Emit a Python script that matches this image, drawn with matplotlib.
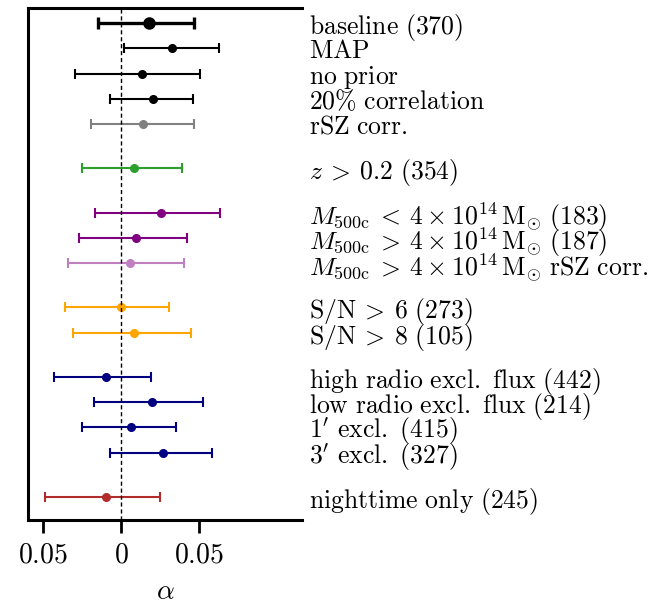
import numpy as np
from matplotlib import pyplot as plt

plt.rcParams['mathtext.fontset'] = 'cm'
plt.rcParams['font.family'] = 'serif'
plt.rcParams['font.serif'] = ['cmr10', 'DejaVu Serif']
plt.rcParams['axes.formatter.use_mathtext'] = True

# rows grouped as in the figure, top to bottom
labels = [
    [r'$\mathrm{baseline\ (370)}$',
     r'$\mathrm{MAP}$',
     r'$\mathrm{no\ prior}$',
     r'$\mathrm{20\%\ correlation}$',
     r'$\mathrm{rSZ\ corr.}$'],
    [r'$z\:>\:0.2\ \mathrm{(354)}$'],
    [r'$M_{\mathrm{500c}}\:<\:4 \times 10^{14}\,\mathrm{M}_{\odot}\ \mathrm{(183)}$',
     r'$M_{\mathrm{500c}}\:>\:4 \times 10^{14}\,\mathrm{M}_{\odot}\ \mathrm{(187)}$',
     r'$M_{\mathrm{500c}}\:>\:4 \times 10^{14}\,\mathrm{M}_{\odot}\ \mathrm{rSZ\ corr.}$'],
    [r'$\mathrm{S/N}\:>\:6\ \mathrm{(273)}$',
     r'$\mathrm{S/N}\:>\:8\ \mathrm{(105)}$'],
    [r'$\mathrm{high\ radio\ excl.\ flux\ (442)}$',
     r'$\mathrm{low\ radio\ excl.\ flux\ (214)}$',
     r"$1^{\prime}\ \mathrm{excl.\ (415)}$",
     r"$3^{\prime}\ \mathrm{excl.\ (327)}$"],
    [r'$\mathrm{nighttime\ only\ (245)}$'],
]

alpha_best = [
    [0.0177, 0.0325, 0.0135, 0.0203, 0.0143],
    [0.0081],
    [0.0254, 0.0094, 0.0056],
    [-0.0002, 0.0083],
    [-0.0096, 0.0197, 0.0064, 0.0271],
    [-0.0096],
]
alpha_lo = [
    [-0.0149, 0.0021, -0.0295, -0.0071, -0.0194],
    [-0.0248],
    [-0.0167, -0.0267, -0.0340],
    [-0.0359, -0.0310],
    [-0.0429, -0.0173, -0.0250, -0.0072],
    [-0.0487],
]
alpha_hi = [
    [0.0464, 0.0624, 0.0506, 0.0460, 0.0464],
    [0.0387],
    [0.0635, 0.0425, 0.0402],
    [0.0308, 0.0447],
    [0.0192, 0.0524, 0.0353, 0.0581],
    [0.0252],
]
colors = [
    ['black', 'black', 'black', 'black', '#808080'],
    ['#2ca02c'],
    ['#800080', '#800080', '#c080c0'],
    ['orange', 'orange'],
    ['navy', 'navy', 'navy', 'navy'],
    ['#b22c2c'],
]

fig = plt.figure(figsize=(6.7, 6.04), dpi=100)
ax = fig.add_axes([0.042, 0.139, 0.409, 0.848])

group_gap = 1.75
ypos, ylabels = [], []
y = 0.0
for g, group in enumerate(labels):
    for i, lab in enumerate(group):
        lo = alpha_lo[g][i]
        hi = alpha_hi[g][i]
        best = alpha_best[g][i]
        main = (g == 0 and i == 0)
        lw = 2.4 if main else 1.5
        ax.errorbar([best], [y], xerr=[[best - lo], [hi - best]], fmt='o',
                    color=colors[g][i], ms=8 if main else 5.5,
                    elinewidth=lw, capthick=lw, capsize=4 if main else 3.5)
        ypos.append(y)
        ylabels.append(lab)
        y += 1
    y += group_gap - 1

ax.axvline(0, color='black', lw=1, ls=(0, (3, 2)), zorder=3)

ax.set_xlim(-0.0596, 0.116)
ax.set_ylim(19.67, -0.6)

ax.yaxis.tick_right()
ax.set_yticks(ypos, ylabels, fontsize=18.5)
ax.tick_params(axis='y', length=0, pad=5)

ax.set_xticks([-0.05, 0, 0.05], [r'$0.05$', r'$0$', r'$0.05$'], fontsize=20)
ax.tick_params(axis='x', length=9, width=2, pad=7)
ax.set_xlabel(r'$\alpha$', fontsize=20, labelpad=7)

ax.spines['right'].set_visible(False)
for side in ['left', 'top', 'bottom']:
    ax.spines[side].set_linewidth(2.2)

fig.savefig('out.png', dpi=100)
